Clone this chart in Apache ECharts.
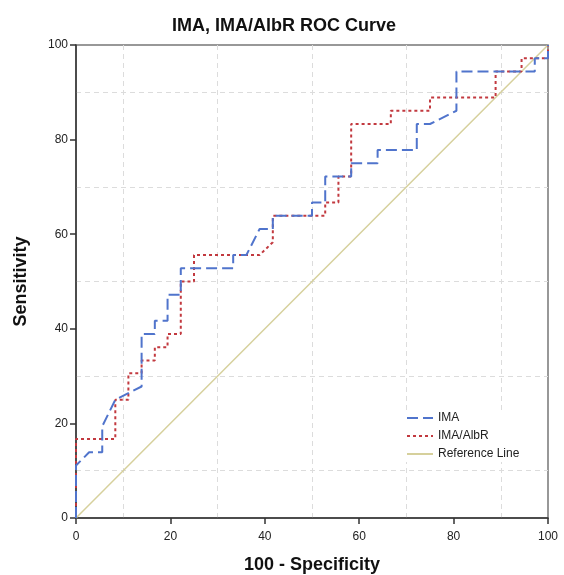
<!DOCTYPE html>
<html><head><meta charset="utf-8">
<script src="https://cdn.jsdelivr.net/npm/echarts@6/dist/echarts.min.js"></script>
<style>html,body{margin:0;padding:0;background:#fff}#c{width:564px;height:575px}</style>
</head><body><div id="c"></div>
<script>
var imaX = [0, 0, 2.78, 5.56, 5.56, 8.33, 13.9, 13.9, 16.7, 16.7, 19.4, 19.4, 22.2, 22.2, 33.3, 33.3, 36.1, 38.9, 41.7, 41.7, 50, 50, 52.8, 52.8, 58.3, 58.3, 63.9, 63.9, 72.2, 72.2, 75, 80.6, 80.6, 97.2, 97.2, 100, 100];
var imaY = [0, 11.1, 13.9, 13.9, 19.4, 25, 27.8, 38.9, 38.9, 41.7, 41.7, 47.2, 47.2, 52.8, 52.8, 55.6, 55.6, 61.1, 61.1, 63.9, 63.9, 66.7, 66.7, 72.2, 72.2, 75, 75, 77.8, 77.8, 83.3, 83.3, 86.1, 94.4, 94.4, 97.2, 97.2, 100];
var albX = [0, 0, 8.33, 8.33, 11.1, 11.1, 13.9, 13.9, 16.7, 16.7, 19.4, 19.4, 22.2, 22.2, 25, 25, 38.9, 41.7, 41.7, 52.8, 52.8, 55.6, 55.6, 58.3, 58.3, 66.7, 66.7, 75, 75, 88.9, 88.9, 94.4, 94.4, 100, 100];
var albY = [0, 16.7, 16.7, 25, 25, 30.6, 30.6, 33.3, 33.3, 36.1, 36.1, 38.9, 38.9, 50, 50, 55.6, 55.6, 58.3, 63.9, 63.9, 66.7, 66.7, 72.2, 72.2, 83.3, 83.3, 86.1, 86.1, 88.9, 88.9, 94.4, 94.4, 97.2, 97.2, 100];
var refX = [0, 100];
var refY = [0, 100];
var seriesNames = ['IMA', 'IMA/AlbR', 'Reference Line'];
var tickValues = [0, 20, 40, 60, 80, 100];

function pairs(xs, ys) { return xs.map(function (x, i) { return [x, ys[i]]; }); }

var chart = echarts.init(document.getElementById('c'));
var axisCommon = {
  type: 'value', min: tickValues[0], max: tickValues[tickValues.length - 1], interval: 20,
  axisLine: { show: true, lineStyle: { color: '#333', width: 1.5 } },
  axisTick: { show: true, length: 6, lineStyle: { color: '#333', width: 1.5 } },
  axisLabel: { color: '#222', fontSize: 12, fontFamily: 'Liberation Sans' },
  splitLine: { show: false },
  minorTick: { show: false, splitNumber: 2 },
  minorSplitLine: { show: true, lineStyle: { color: '#dcdcdc', type: [5, 4], width: 1 } },
  nameLocation: 'middle',
  nameTextStyle: { color: '#111', fontSize: 18, fontWeight: 'bold', fontFamily: 'Liberation Sans' }
};
chart.setOption({
  animation: false,
  backgroundColor: '#fff',
  title: {
    text: 'IMA, IMA/AlbR ROC Curve', left: 279, top: 12, textAlign: 'center',
    textStyle: { fontSize: 18, fontWeight: 'bold', color: '#111', fontFamily: 'Liberation Sans' }
  },
  grid: { left: 76, right: 16, top: 45, bottom: 57, outerBoundsMode: 'none', containLabel: false,
    show: true, borderColor: '#777', borderWidth: 1.5, backgroundColor: 'transparent' },
  xAxis: Object.assign({}, axisCommon, { name: '100 - Specificity', nameGap: 38,
    axisLabel: Object.assign({}, axisCommon.axisLabel, { margin: 13 }) }),
  yAxis: Object.assign({}, axisCommon, { name: 'Sensitivity', nameGap: 46 }),
  legend: {
    orient: 'vertical', left: 404, top: 410, itemGap: 6, itemWidth: 26, itemHeight: 12,
    backgroundColor: '#fff', padding: [2, 4, 2, 2],
    itemStyle: { opacity: 0 },
    textStyle: { fontSize: 12, color: '#222', fontFamily: 'Liberation Sans' },
    data: seriesNames
  },
  series: [
    { name: seriesNames[2], type: 'line', data: pairs(refX, refY), showSymbol: false, symbol: 'none',
      lineStyle: { color: '#d6d09c', width: 1.5, type: 'solid' }, itemStyle: { color: '#d6d09c' }, z: 1 },
    { name: seriesNames[1], type: 'line', data: pairs(albX, albY), showSymbol: false, symbol: 'none',
      lineStyle: { color: '#c2393f', width: 2, type: [3, 3] }, itemStyle: { color: '#c2393f' }, z: 2 },
    { name: seriesNames[0], type: 'line', data: pairs(imaX, imaY), showSymbol: false, symbol: 'none',
      lineStyle: { color: '#5074cc', width: 2, type: [11, 5] }, itemStyle: { color: '#5074cc' }, z: 3 }
  ]
});
</script></body></html>
